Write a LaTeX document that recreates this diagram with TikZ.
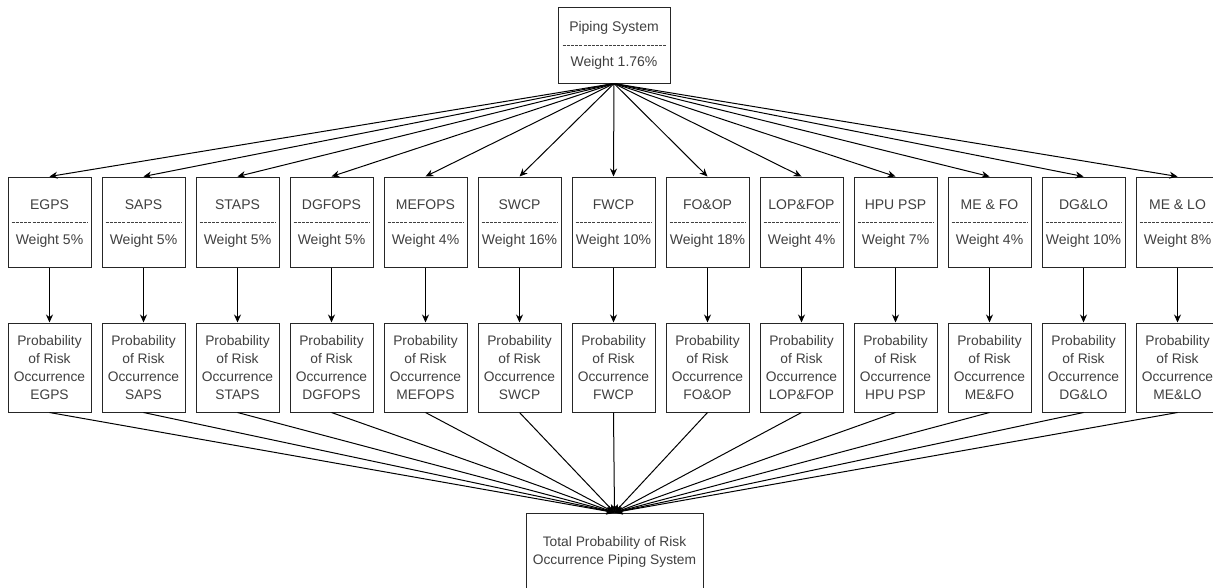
\documentclass[tikz,border=0pt]{standalone}
\usepackage{fontspec}
\setmainfont{Liberation Sans}
\usetikzlibrary{arrows.meta}
\begin{document}
\begin{tikzpicture}[x=1pt,y=-1pt,
  box/.style={draw=black!85,line width=1pt,fill=white,inner sep=0pt},
  wbox/.style={box,minimum width=83pt,minimum height=90pt},
  pbox/.style={box,minimum width=83pt,minimum height=89pt,align=center,font=\fontsize{13.8}{18}\selectfont,text=black!75},
  lbl/.style={inner sep=0pt,font=\fontsize{14}{16}\selectfont,text=black!75},
  sep/.style={draw=black!75,line width=0.7pt,dash pattern=on 3pt off 1.2pt},
  conn/.style={draw=black,line width=1pt,-{Stealth[length=8pt,width=7pt]}}]
\clip (0,0) rectangle (1213,587);
\fill[white] (0,0) rectangle (1213,587);
% top node
\node[box,minimum width=112pt,minimum height=76pt] (top) at (614,45) {};
\node[lbl] (topa) at (614,28) {Piping System};
\node[lbl] (topb) at (614,63) {Weight 1.76\%};
\draw[sep] ([xshift=5pt]top.west) -- ([xshift=-5pt]top.east);
% bottom node
\node[box,minimum width=177pt,minimum height=80pt] (total) at (614.5,553) {};
\node[lbl,align=center,font=\fontsize{13.8}{18}\selectfont] (totaltxt) at (614.5,552) {Total Probability of Risk\\Occurrence Piping System};
\foreach \i/\n/\w/\p [count=\k from 0] in {
  EGPS/EGPS/5/EGPS,
  SAPS/SAPS/5/SAPS,
  STAPS/STAPS/5/STAPS,
  DGFOPS/DGFOPS/5/DGFOPS,
  MEFOPS/MEFOPS/4/MEFOPS,
  SWCP/SWCP/16/SWCP,
  FWCP/FWCP/10/FWCP,
  FOOP/FO\&OP/18/FO\&OP,
  LOPFOP/LOP\&FOP/4/LOP\&FOP,
  HPU/HPU PSP/7/HPU PSP,
  MEFO/ME \& FO/4/ME\&FO,
  DGLO/DG\&LO/10/DG\&LO,
  MELO/ME \& LO/8/ME\&LO}{
  \pgfmathsetmacro{\cx}{49.5+94*\k}
  \node[wbox] (m\i) at (\cx,222) {};
  \node[lbl] (ma\i) at (\cx,205) {\n};
  \node[lbl] (mb\i) at (\cx,241) {Weight \w\%};
  \draw[sep] ([xshift=4pt]m\i.west) -- ([xshift=-4pt]m\i.east);
  \node[pbox] (p\i) at (\cx,367.5) {Probability\\of Risk\\Occurrence\\\p};
  \draw[conn] (top.south) -- (m\i.north);
  \draw[conn] (m\i.south) -- (p\i.north);
  \draw[conn] (p\i.south) -- (total.north);
}
\end{tikzpicture}
\end{document}
